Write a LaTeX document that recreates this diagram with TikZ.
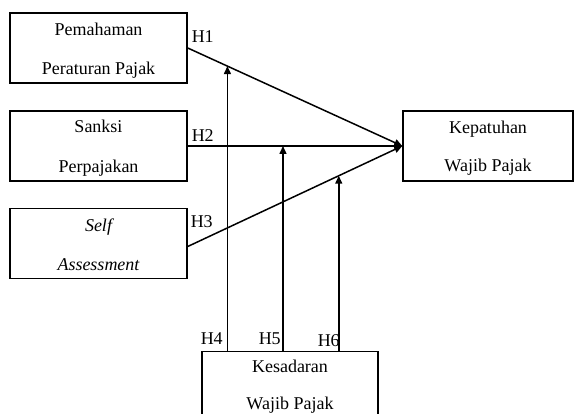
\documentclass[tikz,border=0pt]{standalone}
\usepackage{fontspec}
\setmainfont{Liberation Serif}
\usetikzlibrary{arrows.meta,calc}
\begin{document}
\begin{tikzpicture}[x=1pt,y=-1pt,line width=1.5pt,
  varbox/.style={draw,rectangle,inner sep=0pt,minimum width=177pt,minimum height=70pt},
  txt/.style={anchor=base,inner sep=0pt,font=\fontsize{18}{21}\selectfont},
  hl/.style={anchor=base west,inner sep=0pt,font=\fontsize{18}{21}\selectfont},
  arr/.style={-{Triangle[length=8pt,width=7pt]}}]
\useasboundingbox (0,0) rectangle (574,414);
\clip (0,0) rectangle (574,414);
\fill[white] (0,0) rectangle (574,414);
% boxes
\node[varbox] (b1) at (98.5,48) {};
\node[varbox] (b2) at (98.5,146) {};
\node[varbox] (b3) at (98.5,243.5) {};
\node[varbox,minimum width=170pt] (k) at (488,146) {};
\node[varbox,minimum width=176pt,minimum height=90pt,anchor=north] (ks) at (290,351) {};
% texts
\node[txt] (t1a) at (98.5,36) {Pemahaman};
\node[txt] (t1b) at (98.5,75) {Peraturan Pajak};
\node[txt] (t2a) at (98.5,133) {Sanksi};
\node[txt] (t2b) at (98.5,173) {Perpajakan};
\node[txt] (t3a) at (98.5,232) {\itshape Self};
\node[txt] (t3b) at (98.5,271) {\itshape Assessment};
\node[txt] (tka) at (488,134) {Kepatuhan};
\node[txt] (tkb) at (488,172) {Wajib Pajak};
\node[txt] (tsa) at (290,373) {Kesadaran};
\node[txt] (tsb) at (290,410) {Wajib Pajak};
% main arrows
\coordinate (s3) at ($(b3.east)+(0,3)$);
\draw[arr] (b1.east) -- (k.west);
\draw[arr] (b2.east) -- (k.west);
\draw[arr] (s3) -- (k.west);
\path (b1.east) -- (k.west) coordinate[pos=0.185] (p1);
\path (b2.east) -- (k.west) coordinate[pos=0.444] (p2);
\path (s3) -- (k.west) coordinate[pos=0.704] (p3);
\draw[arr] (p1 |- ks.north) -- (p1);
\draw[arr] (p2 |- ks.north) -- (p2);
\draw[arr] (p3 |- ks.north) -- (p3);
% H labels
\node[hl] (h1) at (191,43) {H1};
\node[hl] (h2) at (191,142) {H2};
\node[hl] (h3) at (190,228) {H3};
\node[hl] (h4) at (200,345) {H4};
\node[hl] (h5) at (258,345) {H5};
\node[hl] (h6) at (317,347) {H6};
\end{tikzpicture}
\end{document}
